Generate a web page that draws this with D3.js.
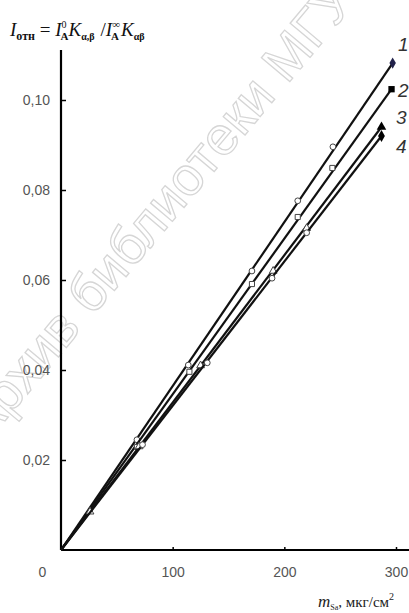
<!DOCTYPE html>
<html>
<head>
<meta charset="utf-8">
<script src="https://cdn.jsdelivr.net/npm/d3@7"></script>
<style>
  body { margin: 0; background: #fff; }
  .axis text { font-family: "Liberation Sans", Arial, sans-serif; font-size: 14px; fill: #555; }
  .axis line { stroke: #000; stroke-width: 1.5; }
</style>
</head>
<body>
<svg class="chart" width="409" height="613"></svg>
<script>
// curve data: mass (mkg/cm2) and relative intensity
var series1 = [[0, 0], [68, 0.0245], [114, 0.0411], [171, 0.0620], [212, 0.0776], [243.5, 0.0896], [297, 0.1082]];
var series2 = [[0, 0], [68, 0.0229], [115, 0.0396], [171, 0.0591], [212, 0.0740], [243, 0.0849], [296, 0.1024]];
var series3 = [[0, 0], [26, 0.0085], [70, 0.0230], [125, 0.0410], [190, 0.0620], [220, 0.0715], [287, 0.0940]];
var series4 = [[0, 0], [73, 0.0234], [131, 0.0416], [189, 0.0604], [220, 0.0705], [287, 0.0920]];
var seriesNames = ["1", "2", "3", "4"];
var xTicks = [0, 100, 200, 300];
var yTicks = [0.02, 0.04, 0.06, 0.08, 0.10];

function drawChart() {
    var svg = d3.select(".chart");

    var x = d3.scaleLinear().domain([0, 300]).range([61, 396]);
    var y = d3.scaleLinear().domain([0, 0.10]).range([550, 100]);

    // watermark of the scanned source
    svg.append("text")
        .attr("transform", "translate(160,214) rotate(-50)")
        .attr("text-anchor", "middle")
        .attr("dominant-baseline", "middle")
        .style("font-family", "Liberation Sans, Arial, sans-serif")
        .style("font-size", "54px")
        .style("fill", "none")
        .style("stroke", "#d6d6d6")
        .style("stroke-width", 1.3)
        .text("Архив библиотеки МГУ");

    // axes lines
    svg.append("line")
        .attr("x1", x(0)).attr("x2", x(0))
        .attr("y1", y(0)).attr("y2", y(0.1111))
        .style("stroke", "#000").style("stroke-width", 2.2);
    svg.append("line")
        .attr("x1", x(0)).attr("x2", x(312))
        .attr("y1", y(0)).attr("y2", y(0))
        .style("stroke", "#000").style("stroke-width", 2.2);

    var fmt = function(d) { return d3.format(".2f")(d).replace(".", ","); };

    svg.append("g")
        .attr("class", "axis")
        .attr("transform", "translate(" + x(0) + ",0)")
        .call(d3.axisLeft(y).tickValues(yTicks).tickFormat(fmt).tickSize(-5).tickPadding(11))
        .call(function(g) { g.select(".domain").remove(); });

    svg.append("g")
        .attr("class", "axis")
        .attr("transform", "translate(0," + y(0) + ")")
        .call(d3.axisBottom(x).tickValues(xTicks).tickFormat(d3.format("d")).tickSize(-3).tickPadding(17))
        .call(function(g) {
            g.select(".domain").remove();
            g.selectAll(".tick").filter(function(d) { return d === 0; })
                .select("text").attr("x", -19);
            g.selectAll(".tick").filter(function(d) { return d === 0; })
                .select("line").remove();
        });

    var all = [series1, series2, series3, series4];
    var line = d3.line()
        .x(function(d) { return x(d[0]); })
        .y(function(d) { return y(d[1]); });

    var symbols = [d3.symbolCircle, d3.symbolSquare, d3.symbolTriangle, d3.symbolCircle];
    var endSymbols = [d3.symbolDiamond, d3.symbolSquare, d3.symbolTriangle, d3.symbolDiamond];

    all.forEach(function(s, i) {
        var ends = [s[0], s[s.length - 1]];
        svg.append("path")
            .datum(ends)
            .attr("d", line)
            .style("fill", "none")
            .style("stroke", "#111")
            .style("stroke-width", 2.2);

        svg.selectAll(".pt" + i)
            .data(s.slice(1, s.length - 1))
            .enter().append("path")
            .attr("class", "pt" + i)
            .attr("transform", function(d) { return "translate(" + x(d[0]) + "," + y(d[1]) + ")"; })
            .attr("d", d3.symbol().type(symbols[i]).size(26))
            .style("fill", "#fff")
            .style("stroke", "#444")
            .style("stroke-width", 1);

        var last = s[s.length - 1];
        svg.append("path")
            .attr("transform", "translate(" + x(last[0]) + "," + y(last[1]) + ")")
            .attr("d", d3.symbol().type(endSymbols[i]).size(i === 0 ? 36 : 40))
            .style("fill", i === 0 ? "#22224a" : "#000");
    });

    // curve numbers
    var labelPos = [[398, 51], [398, 97], [396, 124], [396, 153]];
    svg.selectAll(".cname")
        .data(seriesNames)
        .enter().append("text")
        .attr("class", "cname")
        .attr("x", function(d, i) { return labelPos[i][0]; })
        .attr("y", function(d, i) { return labelPos[i][1]; })
        .style("font-family", "Liberation Sans, Arial, sans-serif")
        .style("font-style", "italic")
        .style("font-size", "19px")
        .style("fill", "#333")
        .text(function(d) { return d; });

    // y title (formula)
    var t = svg.append("text")
        .attr("x", 10).attr("y", 36)
        .style("font-family", "Liberation Serif, Times New Roman, serif")
        .style("font-size", "19px")
        .style("fill", "#111");
    t.append("tspan").style("font-style", "italic").text("I");
    t.append("tspan").attr("dy", 4).style("font-size", "12px").style("font-weight", "bold").text("отн");
    t.append("tspan").attr("dy", -4).text(" = ");
    t.append("tspan").style("font-style", "italic").text("I");
    t.append("tspan").attr("dy", -8).style("font-size", "10px").text("0");
    t.append("tspan").attr("dx", -6).attr("dy", 12).style("font-size", "11px").style("font-weight", "bold").text("A");
    t.append("tspan").attr("dy", -4).style("font-style", "italic").text("K");
    t.append("tspan").attr("dy", 4).style("font-size", "10px").style("font-weight", "bold").text("α,β");
    t.append("tspan").attr("dx", 6).attr("dy", -4).text("/");
    t.append("tspan").style("font-style", "italic").text("I");
    t.append("tspan").attr("dy", -8).style("font-size", "11px").text("∞");
    t.append("tspan").attr("dx", -9).attr("dy", 12).style("font-size", "11px").style("font-weight", "bold").text("A");
    t.append("tspan").attr("dx", 2).attr("dy", -4).style("font-style", "italic").text("K");
    t.append("tspan").attr("dy", 4).style("font-size", "10px").style("font-weight", "bold").text("αβ");

    // x title
    var xt = svg.append("text")
        .attr("x", 318).attr("y", 607)
        .style("font-family", "Liberation Serif, Times New Roman, serif")
        .style("font-size", "15px")
        .style("fill", "#222");
    xt.append("tspan").style("font-style", "italic").style("font-size", "17px").text("m");
    xt.append("tspan").attr("dy", 3).style("font-size", "8px").text("Sa");
    xt.append("tspan").attr("dy", -3).text(", мкг/см");
    xt.append("tspan").attr("dy", -7).style("font-size", "10px").text("2");
}

drawChart();
</script>
</body>
</html>
